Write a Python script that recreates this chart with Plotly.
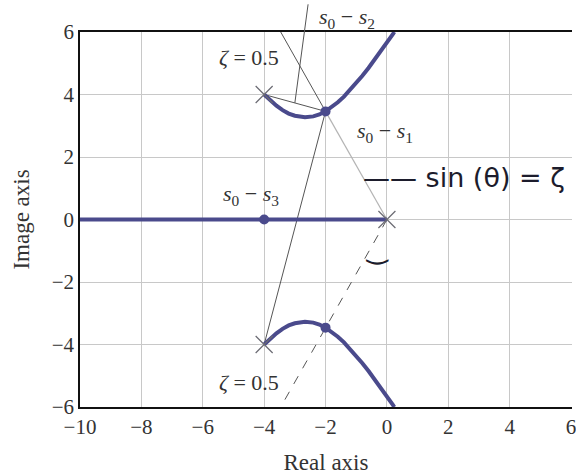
import plotly.graph_objects as go

# Open-loop poles of G(s) = K / (s (s^2 + 8s + 32))
pole_re = [-4.0, -4.0, 0.0]
pole_im = [4.0, -4.0, 0.0]

# Closed-loop poles on the zeta = 0.5 design point (s0) and the real pole
cl_re = [-2.0, -2.0, -4.0]
cl_im = [3.46, -3.46, 0.0]

# Complex branch of the locus (upper half; lower half is its mirror)
branch_re = [-4.0, -3.8, -3.6, -3.4, -3.2, -3.0, -2.8, -2.67, -2.4, -2.2, -2.0,
             -1.8, -1.6, -1.4, -1.2, -1.0, -0.8, -0.6, -0.4, -0.2, 0.0, 0.2, 0.24]
branch_im = [4.00, 3.81, 3.64, 3.50, 3.39, 3.32, 3.27, 3.27, 3.30, 3.36, 3.46,
             3.59, 3.75, 3.93, 4.14, 4.36, 4.60, 4.85, 5.11, 5.38, 5.66, 5.94, 6.00]

# Real-axis branch
real_re = [-10.0, 0.0]
real_im = [0.0, 0.0]

# Constant-damping rays (zeta = 0.5) from the origin to the plot edge
zeta_up_re = [-2.0, -3.46]
zeta_up_im = [3.46, 6.0]
zeta_dn_re = [0.0, -3.46]
zeta_dn_im = [0.0, -6.0]

# Vectors from each open-loop pole to s0
vec1_re = [0.0, -2.0]
vec1_im = [0.0, 3.46]
vec2_re = [-4.0, -2.0]
vec2_im = [4.0, 3.46]
vec3_re = [-4.0, -2.0]
vec3_im = [-4.0, 3.46]

x_ticks = [-10, -8, -6, -4, -2, 0, 2, 4, 6]
y_ticks = [-6, -4, -2, 0, 2, 4, 6]

LOCUS = "#4a4a8c"
DARK = "#555555"
LIGHT = "#b4b4b4"
TEXT = "#333333"
INK = "#1c1c2c"
SERIF = "Liberation Serif"

fig = go.Figure()

def seg(xs, ys, color, width=1.0, dash="solid"):
    fig.add_trace(go.Scatter(x=xs, y=ys, mode="lines",
                             line=dict(color=color, width=width, dash=dash),
                             hoverinfo="skip", showlegend=False))

seg(vec1_re, vec1_im, LIGHT, 1.2)
seg(vec2_re, vec2_im, DARK, 1.0)
seg(vec3_re, vec3_im, DARK, 1.0)
seg(zeta_up_re, zeta_up_im, DARK, 1.0)
seg(zeta_dn_re, zeta_dn_im, DARK, 1.0, "dash")

# Locus branches
seg(real_re, real_im, LOCUS, 4)
seg(branch_re, branch_im, LOCUS, 4)
seg(branch_re, [-v for v in branch_im], LOCUS, 4)

# Open-loop poles
fig.add_trace(go.Scatter(x=pole_re, y=pole_im, mode="markers",
                         marker=dict(symbol="x-thin-open", size=17,
                                     color="#6a6a72",
                                     line=dict(color="#6a6a72", width=1.2)),
                         cliponaxis=False, hoverinfo="skip", showlegend=False))
# Closed-loop poles
fig.add_trace(go.Scatter(x=cl_re, y=cl_im, mode="markers",
                         marker=dict(symbol="circle", size=10, color=LOCUS),
                         hoverinfo="skip", showlegend=False))

lab_font = dict(family=SERIF, size=22, color=TEXT)
labels = [
    (-4.48, 5.18, "<i>ζ</i> = 0.5"),
    (-4.48, -5.22, "<i>ζ</i> = 0.5"),
    (-4.42, 0.80, "<i>s</i><sub>0</sub> − <i>s</i><sub>3</sub>"),
    (-0.06, 2.80, "<i>s</i><sub>0</sub> − <i>s</i><sub>1</sub>"),
]
for lx, ly, txt in labels:
    fig.add_annotation(x=lx, y=ly, text=txt, showarrow=False, font=lab_font)

# s0 - s2 sits above the plot frame
fig.add_annotation(x=-1.30, xref="x", y=1.08, yref="paper",
                   text="<i>s</i><sub>0</sub> − <i>s</i><sub>2</sub>",
                   showarrow=False, font=lab_font)
# Leader from the s0 - s2 label to its vector
fig.add_annotation(x=-3.0, y=3.73, ax=-2.56, ay=6.95, axref="x", ayref="y",
                   text=" ", font=dict(size=1), showarrow=True, arrowhead=0,
                   arrowwidth=1, arrowcolor=DARK, standoff=0, startstandoff=0)

# Pen notes
fig.add_annotation(x=-0.85, y=1.35, xanchor="left", text="—— sin (θ) = ζ",
                   showarrow=False,
                   font=dict(family="DejaVu Sans", size=27, color=INK))
fig.add_annotation(x=-0.35, y=-1.38, text="(", textangle=-90, showarrow=False,
                   font=dict(family="DejaVu Sans", size=24, color=INK))

axis_common = dict(showgrid=True, gridcolor="#c8c8c8", gridwidth=1,
                   zeroline=False, showline=True, linecolor="#111111",
                   linewidth=1.5, ticks="", ticklabeloverflow="allow",
                   tickfont=dict(family=SERIF, size=21, color=TEXT))

fig.update_xaxes(range=[-10, 6.03], tickvals=x_ticks, mirror=True,
                 title=dict(text="Real axis", standoff=16,
                            font=dict(family=SERIF, size=23, color=TEXT)),
                 **axis_common)
fig.update_yaxes(range=[-6, 6], tickvals=y_ticks, mirror=False,
                 title=dict(text="Image axis", standoff=16,
                            font=dict(family=SERIF, size=23, color=TEXT)),
                 **axis_common)

fig.update_layout(width=576, height=475,
                  margin=dict(l=80, r=0, t=32, b=68),
                  paper_bgcolor="white", plot_bgcolor="white",
                  showlegend=False)

fig.write_html("out.html")
